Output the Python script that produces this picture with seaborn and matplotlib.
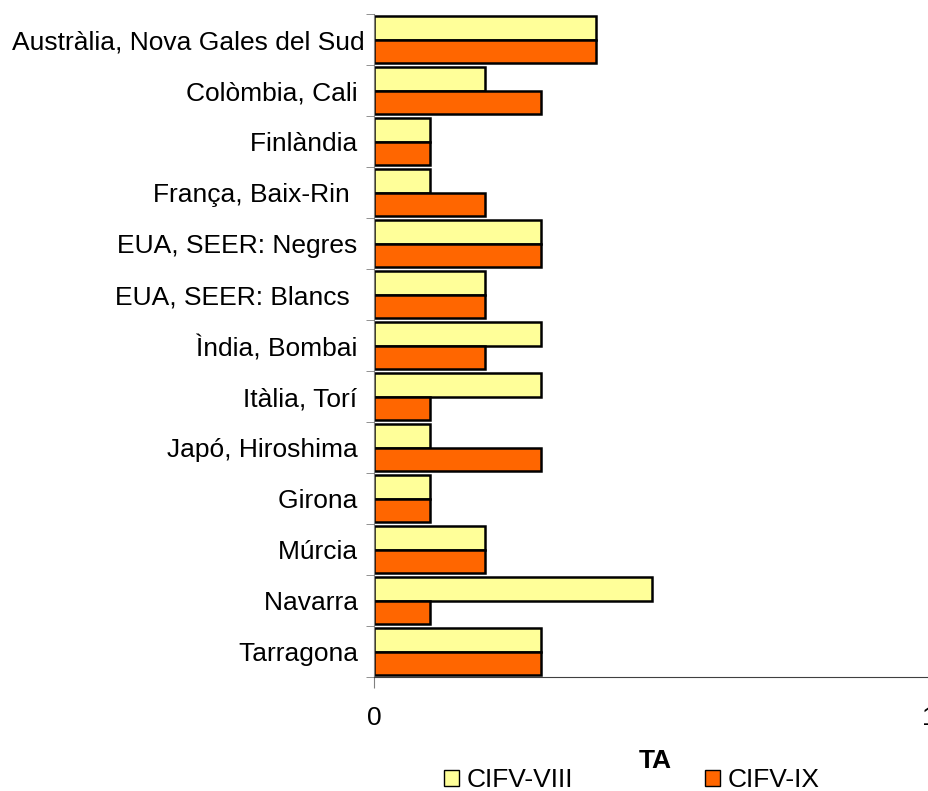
import pandas as pd
import seaborn as sns
import matplotlib.pyplot as plt
from matplotlib.patches import Patch

# Data
regions = ["Austràlia, Nova Gales del Sud", "Colòmbia, Cali ", "Finlàndia ",
           "França, Baix-Rin  ", "EUA, SEER: Negres ", "EUA, SEER: Blancs  ",
           "Ìndia, Bombai ", "Itàlia, Torí ", "Japó, Hiroshima ", "Girona ",
           "Múrcia ", "Navarra ", "Tarragona "]
cifv_viii = [0.4, 0.2, 0.1, 0.1, 0.3, 0.2, 0.3, 0.3, 0.1, 0.1, 0.2, 0.5, 0.3]
cifv_ix = [0.4, 0.3, 0.1, 0.2, 0.3, 0.2, 0.2, 0.1, 0.3, 0.1, 0.2, 0.1, 0.3]
series = ["CIFV-VIII", "CIFV-IX"]
colors = ["#FFFF99", "#FF6600"]

df = pd.DataFrame({"region": regions * 2,
                   "value": cifv_viii + cifv_ix,
                   "series": [series[0]] * len(regions) + [series[1]] * len(regions)})

sns.set_style("white")
plt.rcParams['font.family'] = ['Liberation Sans', 'DejaVu Sans']
plt.rcParams['text.color'] = 'black'
plt.rcParams['xtick.color'] = 'black'
plt.rcParams['ytick.color'] = 'black'

fig = plt.figure(figsize=(9.29, 7.91), dpi=100)
ax = fig.add_axes([0.4026, 0.1441, 0.5974, 0.8382])

sns.barplot(data=df, y="region", x="value", hue="series", palette=colors,
            saturation=1, orient="h", width=0.94, edgecolor="black", linewidth=1.8,
            ax=ax, legend=False)

fs = 19
ax.set_xlim(0, 1)
ax.set_ylim(len(regions) - 0.5, -0.5)
ax.set_xticks([0, 1])
ax.set_xticklabels(["0", "1"], fontsize=fs)
ax.tick_params(axis="x", length=8, color="#808080", pad=13, bottom=True)
ax.set_yticks(range(len(regions)))
ax.set_yticklabels(regions, fontsize=fs)
ax.set_yticks([i - 0.5 for i in range(len(regions) + 1)], minor=True)
ax.tick_params(axis="y", which="major", length=0, pad=6.5)
ax.tick_params(axis="y", which="minor", length=6, color="#808080", left=True)

for s in ["top", "right"]:
    ax.spines[s].set_visible(False)
ax.spines["left"].set_color("#808080")
ax.spines["bottom"].set_color("#404040")

ax.set_ylabel("")
ax.set_xlabel("")
fig.text(655 / 929, 1 - 761 / 791, "TA", fontsize=fs, fontweight="bold",
         ha="center", va="center")

handles = [Patch(facecolor=c, edgecolor="black", label=s) for c, s in zip(colors, series)]
fig.legend(handles=handles, loc="center", bbox_to_anchor=(632 / 929, 1 - 780 / 791),
           ncol=2, frameon=False, fontsize=fs, handlelength=0.55, handleheight=0.55,
           handletextpad=0.3, columnspacing=5.0, borderpad=0)

plt.savefig("out.png")
